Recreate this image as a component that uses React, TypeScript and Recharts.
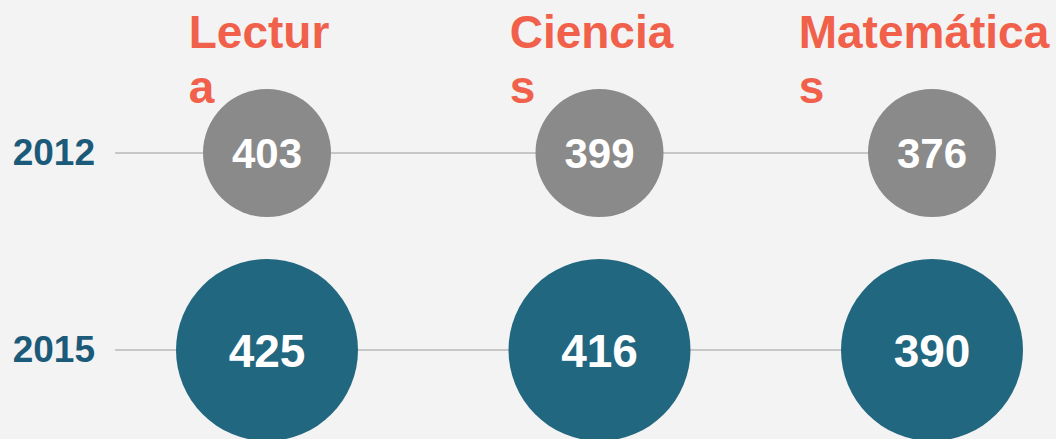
import { ScatterChart, Scatter, XAxis, YAxis, ReferenceLine } from "recharts";

const subjects = ["Lectura", "Ciencias", "Matemáticas"];
const years = [2012, 2015];
const scores2012 = [403, 399, 376];
const scores2015 = [425, 416, 390];

const data2012 = subjects.map((s, i) => ({ x: i, y: 2012, subject: s, score: scores2012[i] }));
const data2015 = subjects.map((s, i) => ({ x: i, y: 2015, subject: s, score: scores2015[i] }));

const FONT = "'Liberation Sans', Arial, sans-serif";
const ORANGE = "#f0604a";
const TEAL = "#21677f";
const GREY = "#8a8a8a";
const YEAR_COLOR = "#1b5a78";

let measureCtx: CanvasRenderingContext2D | null = null;
function textWidth(s: string, font: string): number {
  if (!measureCtx) measureCtx = document.createElement("canvas").getContext("2d");
  if (!measureCtx) return s.length * 26;
  measureCtx.font = font;
  return measureCtx.measureText(s).width;
}

// header wraps onto a second line in the original, last letter goes below
function HeaderTick(props: any) {
  const { x, payload } = props;
  const label = subjects[payload.value] ?? "";
  const first = label.slice(0, -1);
  const last = label.slice(-1);
  const w = textWidth(first, `bold 46px ${FONT}`);
  const left = x - 8 - w / 2;
  return (
    <text fill={ORANGE} fontSize={46} fontWeight="bold" fontFamily={FONT}>
      <tspan x={left} y={48}>{first}</tspan>
      <tspan x={left} y={103}>{last}</tspan>
    </text>
  );
}

function YearTick(props: any) {
  const { x, y, payload } = props;
  return (
    <text
      x={x - 12}
      y={y}
      dy={12}
      textAnchor="end"
      fill={YEAR_COLOR}
      fontSize={37}
      fontWeight="bold"
      fontFamily={FONT}
    >
      {payload.value}
    </text>
  );
}

function bubble(r: number, fill: string, fontSize: number) {
  return (props: any) => {
    const { cx, cy, payload } = props;
    return (
      <g>
        <circle cx={cx} cy={cy} r={r} fill={fill} />
        <text
          x={cx}
          y={cy}
          dy={fontSize * 0.36}
          textAnchor="middle"
          fill="#ffffff"
          fontSize={fontSize}
          fontWeight="bold"
          fontFamily={FONT}
        >
          {payload.score}
        </text>
      </g>
    );
  };
}

export default function App() {
  return (
    <div style={{ position: "absolute", left: 0, top: 0, width: 1056, height: 439, background: "#f3f3f3" }}>
      <ScatterChart width={1056} height={439} margin={{ top: 0, right: 0, bottom: 0, left: 0 }}>
        <XAxis
          type="number"
          dataKey="x"
          orientation="top"
          height={110}
          domain={[0, 2]}
          ticks={[0, 1, 2]}
          padding={{ left: 152, right: 124 }}
          axisLine={false}
          tickLine={false}
          tick={<HeaderTick />}
        />
        <YAxis
          type="number"
          dataKey="y"
          width={115}
          reversed
          domain={[2012, 2015]}
          ticks={years}
          padding={{ top: 43, bottom: 89 }}
          axisLine={false}
          tickLine={false}
          tick={<YearTick />}
        />
        {years.map((yr) => (
          <ReferenceLine
            key={yr}
            segment={[{ x: -0.457, y: yr }, { x: 1.9, y: yr }]}
            stroke="rgba(0,0,0,0.18)"
            strokeWidth={2}
            ifOverflow="visible"
            zIndex={0}
          />
        ))}
        <Scatter data={data2012} shape={bubble(64, GREY, 42)} isAnimationActive={false} />
        <Scatter data={data2015} shape={bubble(91, TEAL, 46)} isAnimationActive={false} />
      </ScatterChart>
    </div>
  );
}
